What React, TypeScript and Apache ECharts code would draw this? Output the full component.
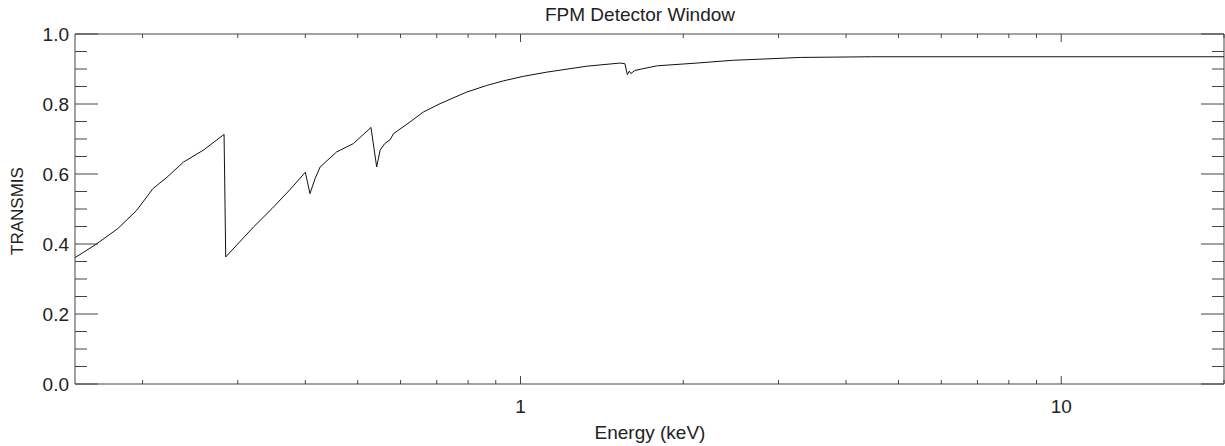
import React, { useEffect, useRef } from 'react';
import * as echarts from 'echarts';

const titleText = 'FPM Detector Window';
const xName = 'Energy (keV)';
const yName = 'TRANSMIS';

const energy = [
  0.15, 0.164, 0.18, 0.195, 0.209, 0.222, 0.238, 0.259, 0.283, 0.285,
  0.321, 0.347, 0.375, 0.4, 0.408, 0.417, 0.426, 0.457, 0.491, 0.529,
  0.542, 0.55, 0.561, 0.574, 0.582, 0.625, 0.661, 0.71, 0.795, 0.866,
  0.929, 1.012, 1.118, 1.326, 1.528, 1.56, 1.576, 1.59, 1.6, 1.628,
  1.786, 2.12, 2.475, 2.77, 3.29, 4.46, 20,
];
const transmission = [
  0.361, 0.399, 0.444, 0.496, 0.558, 0.591, 0.634, 0.668, 0.713, 0.363,
  0.449, 0.501, 0.556, 0.605, 0.544, 0.587, 0.62, 0.663, 0.687, 0.733,
  0.62, 0.668, 0.687, 0.698, 0.715, 0.749, 0.777, 0.801, 0.834, 0.853,
  0.866, 0.879, 0.891, 0.908, 0.917, 0.915, 0.884, 0.894, 0.887, 0.896,
  0.909, 0.917, 0.925, 0.928, 0.933, 0.935, 0.935,
];

const xTickValues = [0.2, 0.3, 0.4, 0.5, 0.6, 0.7, 0.8, 0.9, 1, 2, 3, 4, 5, 6, 7, 8, 9, 10, 20];
const xMajorTicks = [1, 10];
const yTickValues = [
  0, 0.05, 0.1, 0.15, 0.2, 0.25, 0.3, 0.35, 0.4, 0.45, 0.5,
  0.55, 0.6, 0.65, 0.7, 0.75, 0.8, 0.85, 0.9, 0.95, 1.0,
];
const yMajorTicks = [0, 0.2, 0.4, 0.6, 0.8, 1.0];

const X_MIN = 0.15;
const X_MAX = 20;
const FONT = '"Liberation Sans", Arial, sans-serif';
const INK = '#222';
const AXIS = '#444';

export default function App() {
  const ref = useRef<HTMLDivElement>(null);

  useEffect(() => {
    if (!ref.current) return;
    const chart = echarts.init(ref.current, null, { renderer: 'svg' });

    const isMajor = (v: number, list: number[]) => list.some((m) => Math.abs(m - v) < 1e-9);

    const xTickData = xTickValues.map((v) => [v, 0.5, isMajor(v, xMajorTicks) ? 1 : 0]);
    const yTickData = yTickValues.map((v) => [1, v, isMajor(v, yMajorTicks) ? 1 : 0]);

    const lineStyle = { stroke: AXIS, lineWidth: 1 };

    const option: any = {
      animation: false,
      backgroundColor: '#fff',
      textStyle: { fontFamily: FONT },
      grid: {
        left: 75,
        top: 34,
        right: 1,
        bottom: 62,
        show: true,
        borderColor: AXIS,
        borderWidth: 1,
        backgroundColor: 'transparent',
      },
      xAxis: {
        type: 'log',
        logBase: 10,
        min: X_MIN,
        max: X_MAX,
        axisLine: { show: false },
        axisTick: { show: false },
        splitLine: { show: false },
        minorTick: { show: false },
        axisLabel: {
          margin: 13,
          color: INK,
          fontSize: 19,
          fontFamily: FONT,
          showMinLabel: false,
          showMaxLabel: false,
          formatter: (v: number) => {
            for (const m of xMajorTicks) if (Math.abs(v - m) < 1e-6 * m) return String(m);
            return '';
          },
        },
      },
      yAxis: {
        type: 'value',
        min: 0,
        max: 1,
        interval: 0.2,
        axisLine: { show: false },
        axisTick: { show: false },
        splitLine: { show: false },
        axisLabel: {
          margin: 6,
          color: INK,
          fontSize: 19,
          fontFamily: FONT,
          formatter: (v: number) => v.toFixed(1),
        },
      },
      graphic: [
        {
          type: 'text',
          x: 640,
          y: 14,
          style: {
            text: titleText,
            fill: INK,
            font: `19px ${FONT}`,
            textAlign: 'center',
            textVerticalAlign: 'middle',
          },
        },
        {
          type: 'text',
          x: 650,
          y: 432,
          style: {
            text: xName,
            fill: INK,
            font: `19px ${FONT}`,
            textAlign: 'center',
            textVerticalAlign: 'middle',
          },
        },
        {
          type: 'text',
          x: 17,
          y: 211,
          rotation: Math.PI / 2,
          style: {
            text: yName,
            fill: INK,
            font: `17px ${FONT}`,
            textAlign: 'center',
            textVerticalAlign: 'middle',
          },
        },
      ],
      series: [
        {
          type: 'line',
          data: energy.map((e, i) => [e, transmission[i]]),
          showSymbol: false,
          symbol: 'none',
          lineStyle: { color: '#111', width: 1 },
          clip: true,
        },
        {
          type: 'custom',
          data: xTickData,
          silent: true,
          renderItem: (params: any, api: any) => {
            const x = api.coord([api.value(0), 0.5])[0];
            const cs = params.coordSys;
            const len = api.value(2) ? 8 : 4;
            const bottom = cs.y + cs.height;
            return {
              type: 'group',
              children: [
                { type: 'line', shape: { x1: x, y1: bottom, x2: x, y2: bottom - len }, style: lineStyle },
                { type: 'line', shape: { x1: x, y1: cs.y, x2: x, y2: cs.y + len }, style: lineStyle },
              ],
            };
          },
        },
        {
          type: 'custom',
          data: yTickData,
          silent: true,
          renderItem: (params: any, api: any) => {
            const y = api.coord([1, api.value(1)])[1];
            const cs = params.coordSys;
            const len = api.value(2) ? 23 : 12;
            const right = cs.x + cs.width;
            return {
              type: 'group',
              children: [
                { type: 'line', shape: { x1: cs.x, y1: y, x2: cs.x + len, y2: y }, style: lineStyle },
                { type: 'line', shape: { x1: right, y1: y, x2: right - len, y2: y }, style: lineStyle },
              ],
            };
          },
        },
      ],
    };

    chart.setOption(option);
    return () => chart.dispose();
  }, []);

  return (
    <div
      ref={ref}
      style={{ position: 'absolute', left: 0, top: 0, width: 1225, height: 446 }}
    />
  );
}
